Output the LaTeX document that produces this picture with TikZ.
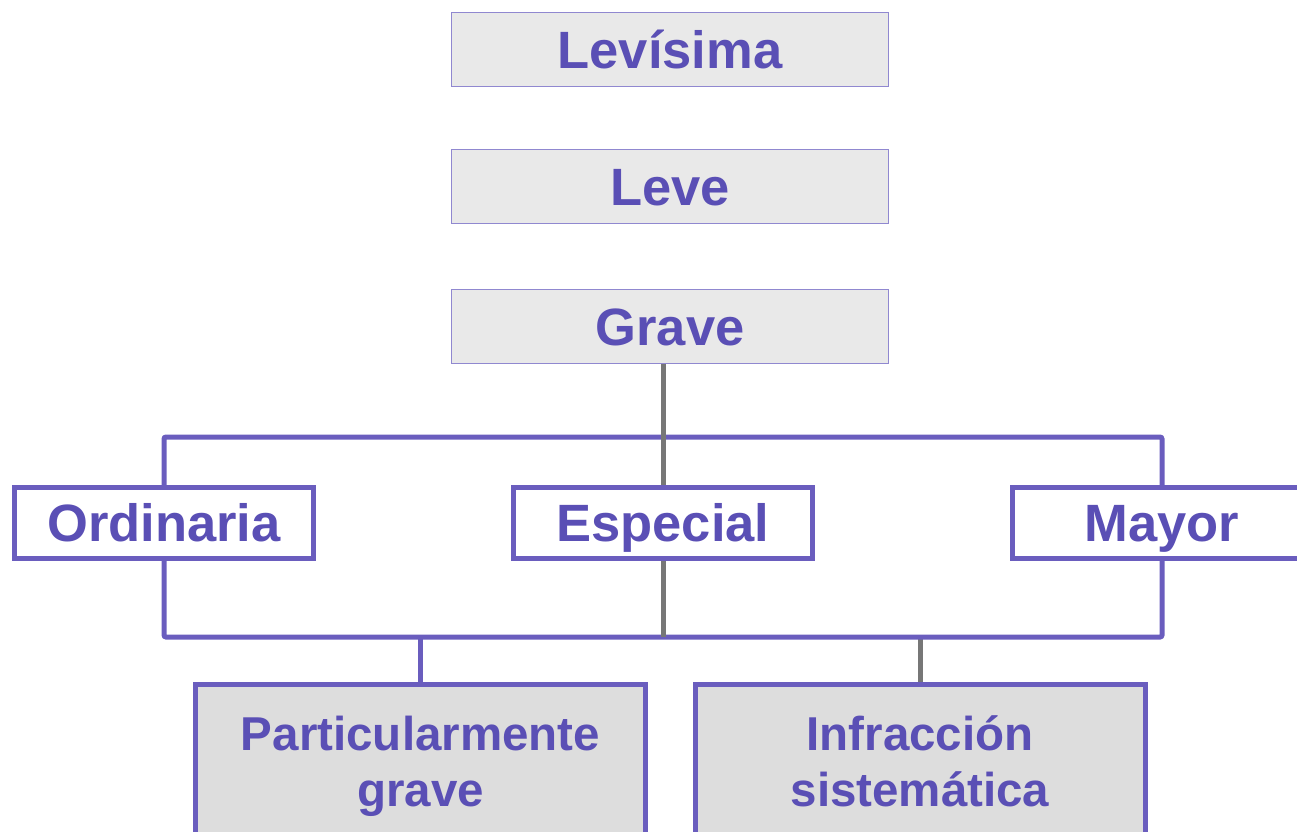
\documentclass[tikz,border=0pt]{standalone}
\usepackage{fontspec}
\setmainfont{Liberation Sans}
\definecolor{txtc}{HTML}{5A4FB5}
\definecolor{brd}{HTML}{6A5DBE}
\definecolor{thinb}{HTML}{9088D0}
\definecolor{topfill}{HTML}{E9E9E9}
\definecolor{botfill}{HTML}{DDDDDD}
\definecolor{grayline}{HTML}{777777}
\tikzset{
  topbox/.style={draw=thinb, line width=1.2pt, fill=topfill, minimum width=437pt, minimum height=74pt, inner sep=0pt, text=txtc, text height=37.5pt, text depth=0pt, font=\bfseries\fontsize{52.5}{56}\selectfont},
  midbox/.style={draw=brd, line width=5pt, fill=white, minimum width=299pt, minimum height=71pt, inner sep=0pt, text=txtc, text height=37.5pt, text depth=0pt, font=\bfseries\fontsize{52.5}{56}\selectfont},
  lowbox/.style={draw=brd, line width=5pt, fill=botfill, minimum width=450pt, minimum height=164pt, inner sep=0pt, text=txtc, align=center, font=\bfseries\fontsize{47.5}{56}\selectfont},
  pline/.style={draw=brd, line width=5pt, rounded corners=2pt},
  gline/.style={draw=grayline, line width=5pt},
}
\begin{document}
\begin{tikzpicture}[x=1pt,y=-1pt]
\useasboundingbox (0,0) rectangle (1297,831);
\clip (0,0) rectangle (1297,831);
\node[topbox] (lev) at (670,49.5) {Levísima};
\node[topbox] (leve) at (670,186.5) {Leve};
\node[topbox] (grave) at (670,326.5) {Grave};
\coordinate (top) at (663,437);
\coordinate (bot) at (663,637);
\node[lowbox] (pg) at (420.5,766.5) {Particularmente\\grave};
\node[lowbox] (inf) at (920,766.5) {Infracción\\sistemática\vphantom{g}};
\draw[pline] (pg.north) -- (pg.north |- bot);
\draw[gline] (inf.north) -- (inf.north |- bot);
\node[midbox] (ord) at (164,523) {Ordinaria};
\node[midbox] (esp) at (663,523) {Especial};
\node[midbox] (may) at (1162,523) {Mayor};
\draw[pline] (ord.north) |- (top) -| (may.north);
\draw[pline] (ord.south) |- (bot) -| (may.south);
\draw[gline] (grave.south -| top) -- (esp.north);
\draw[gline] (esp.south) -- (bot);
\end{tikzpicture}
\end{document}
